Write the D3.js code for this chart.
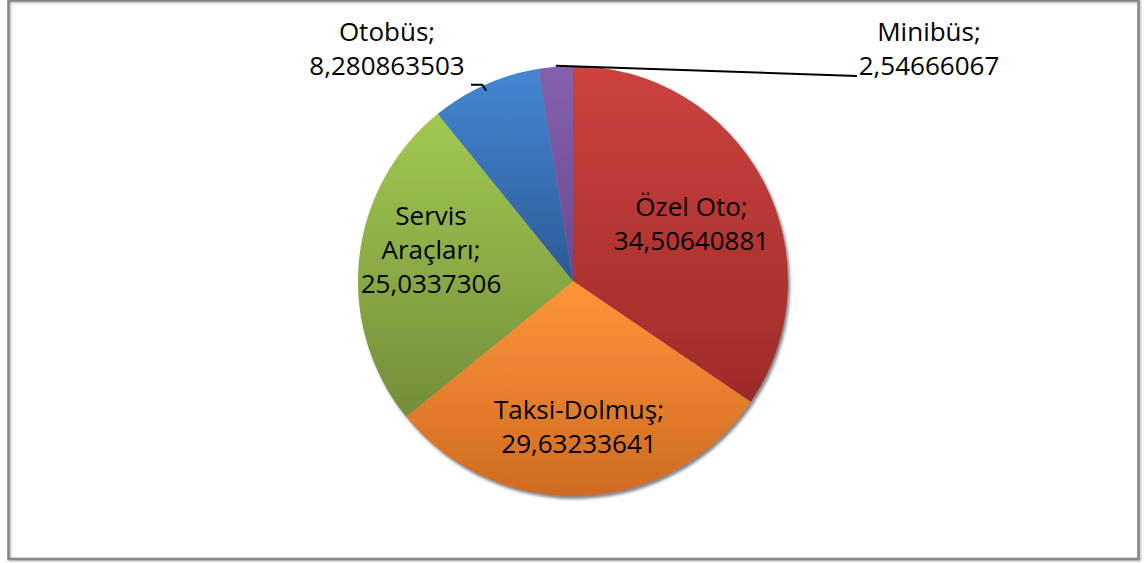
<!DOCTYPE html>
<html>
<head>
<meta charset="utf-8">
<script src="https://cdn.jsdelivr.net/npm/d3@7"></script>
<style>
  body { margin: 0; background: #fff; }
  text { font-family: "Open Sans", "Noto Sans", sans-serif; font-size: 26px; fill: #000; }
</style>
</head>
<body>
<script>
// chart data
var categories = ["Özel Oto", "Taksi-Dolmuş", "Servis Araçları", "Otobüs", "Minibüs"];
var values = [34.50640881, 29.63233641, 25.0337306, 8.280863503, 2.54666067];
var labelLines = [["Özel Oto;"], ["Taksi-Dolmuş;"], ["Servis", "Araçları;"], ["Otobüs;"], ["Minibüs;"]];
var colorsTop = ["#cd423e", "#fd9639", "#a2c852", "#4587d4", "#8661ae"];
var colorsBottom = ["#9d2b29", "#cf6a21", "#728e38", "#2c5a96", "#6a4a90"];

var width = 1144, height = 563,
    cx = 573, cy = 281, radius = 215;

var svg = d3.select("body").append("svg")
            .attr("width", width)
            .attr("height", height);

var defs = svg.append("defs");

var shadow = defs.append("filter")
            .attr("id", "shadow")
            .attr("x", "-10%").attr("y", "-10%")
            .attr("width", "120%").attr("height", "120%");
shadow.append("feDropShadow")
      .attr("dx", 2).attr("dy", 3)
      .attr("stdDeviation", 1.8)
      .attr("flood-color", "#707070")
      .attr("flood-opacity", 0.85);

var frameShadow = defs.append("filter").attr("id", "frameShadow");
frameShadow.append("feDropShadow")
      .attr("dx", 1).attr("dy", 1)
      .attr("stdDeviation", 0.8)
      .attr("flood-color", "#aaa");

categories.forEach(function(c, i) {
    var g = defs.append("linearGradient")
            .attr("id", "grad" + i)
            .attr("x1", 0).attr("y1", 0)
            .attr("x2", 0).attr("y2", 1);
    g.append("stop").attr("offset", "0%").attr("stop-color", colorsTop[i]);
    g.append("stop").attr("offset", "100%").attr("stop-color", colorsBottom[i]);
});

// outer frame
svg.append("rect")
   .attr("x", 8.5).attr("y", 0.5)
   .attr("width", 1130).attr("height", 558.5)
   .attr("fill", "none")
   .attr("stroke", "#878787")
   .attr("stroke-width", 2.5)
   .attr("filter", "url(#frameShadow)");

var pie = d3.pie().sort(null).value(function(d) { return d; });
var arcs = pie(values);

var arc = d3.arc().innerRadius(0).outerRadius(radius);
var labelArc = d3.arc().innerRadius(radius * 0.65).outerRadius(radius * 0.65);
var edgeArc = d3.arc().innerRadius(radius).outerRadius(radius);

var chart = svg.append("g")
            .attr("transform", "translate(" + cx + "," + cy + ")");

var slices = chart.append("g").attr("filter", "url(#shadow)");
slices.selectAll("path")
      .data(arcs)
      .enter()
      .append("path")
      .attr("d", arc)
      .attr("fill", function(d, i) { return "url(#grad" + i + ")"; });

var lineH = 34;
var nudge = [[-5, 8], [0, 6], [-3, -17]];

// labels inside the slices
arcs.slice(0, 3).forEach(function(d, i) {
    var c = labelArc.centroid(d);
    var lines = labelLines[i].concat([String(values[i]).replace(".", ",")]);
    var x = c[0] + nudge[i][0], y = c[1] + nudge[i][1];
    var t = chart.append("text")
                .attr("text-anchor", "middle")
                .attr("x", x)
                .attr("y", y - (lines.length - 1) * lineH / 2 + 9);
    lines.forEach(function(l, k) {
        t.append("tspan").attr("x", x).attr("dy", k == 0 ? 0 : lineH).text(l);
    });
});

// outside labels with leader lines
var outside = [
    {i: 3, anchor: "end", tx: -106, lx: -186},
    {i: 4, anchor: "start", tx: 284, lx: 356}
];
outside.forEach(function(o) {
    var d = arcs[o.i];
    var e = edgeArc.centroid(d);
    var pts;
    if (o.i == 3) {
        pts = [[e[0] + 1, e[1] + 6], [e[0] - 3, e[1]], [o.tx + 4, e[1]]];
    } else {
        pts = [[e[0], e[1] - 1], [o.tx, -205]];
    }
    chart.append("path")
         .attr("d", d3.line()(pts))
         .attr("fill", "none")
         .attr("stroke", "#000")
         .attr("stroke-width", 2);
    var lines = labelLines[o.i].concat([String(values[o.i]).replace(".", ",")]);
    var t = chart.append("text")
                .attr("text-anchor", "middle")
                .attr("y", -240);
    lines.forEach(function(l, k) {
        t.append("tspan").attr("x", o.lx).attr("dy", k == 0 ? 0 : lineH).text(l);
    });
});
</script>
</body>
</html>
